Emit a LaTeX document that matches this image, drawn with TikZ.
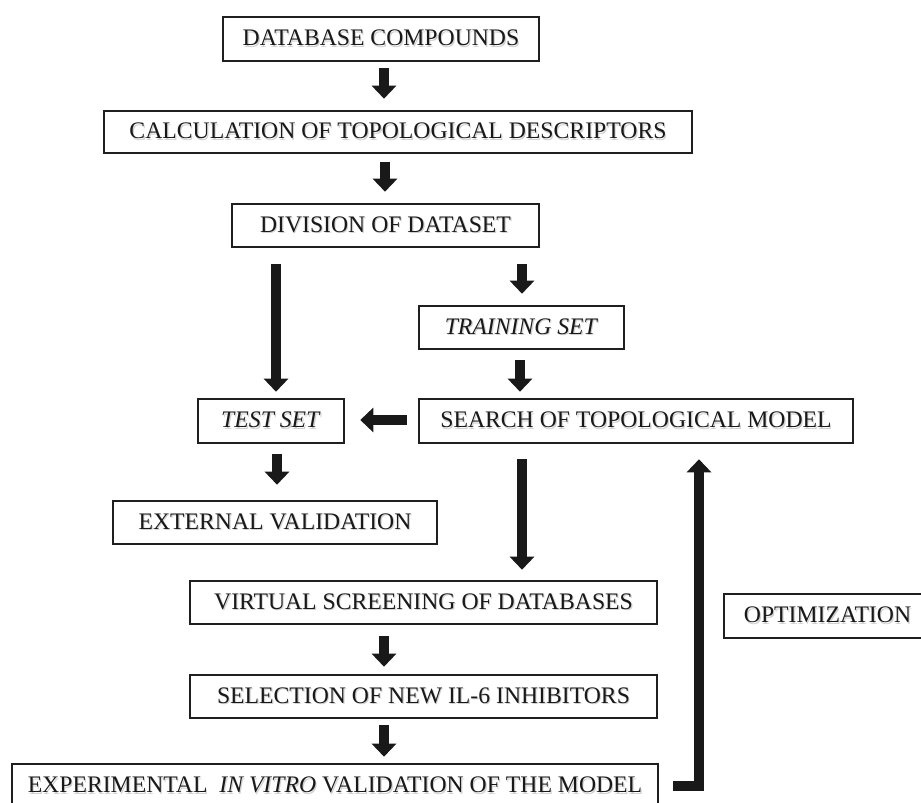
\documentclass[tikz,border=0pt]{standalone}
\usepackage{fontspec}
\setmainfont{Liberation Serif}
\usetikzlibrary{arrows.meta}
\newcommand\shd[1]{\leavevmode\rlap{\kern1.1pt\raisebox{-1.5pt}{\textcolor{black!18}{#1}}}#1}
\begin{document}
\begin{tikzpicture}[x=1pt,y=-1pt,
  box/.style={draw=black!88, line width=2.6pt, inner sep=0pt, minimum height=44pt,
    font=\fontsize{23.7}{26}\selectfont, text=black!90},
  bigarrow/.style={draw=black!90, line width=10pt, line join=miter,
    -{Triangle[width=24pt,length=13pt]}},
]
\path[use as bounding box, clip] (0,0) rectangle (921,803);
\fill[white] (0,0) rectangle (921,803);

\node[box, minimum width=316pt] (db) at (381,39) {\shd{DATABASE COMPOUNDS}};
\node[box, minimum width=588pt, minimum height=42pt] (calc) at (398,132) {\shd{CALCULATION OF TOPOLOGICAL DESCRIPTORS}};
\node[box, minimum width=307pt, minimum height=43pt] (div) at (385.5,225.5) {\shd{DIVISION OF DATASET}};
\node[box, minimum width=205pt, minimum height=43pt] (train) at (521.5,327.5) {\shd{\textit{TRAINING SET}}};
\node[box, minimum width=146pt] (test) at (271,421) {\shd{\textit{TEST SET}}};
\node[box, minimum width=434pt] (search) at (636,421) {\shd{SEARCH OF TOPOLOGICAL MODEL}};
\node[box, minimum width=324pt, minimum height=43pt] (ext) at (275,522.5) {\shd{EXTERNAL VALIDATION}};
\node[box, minimum width=467pt, minimum height=43pt] (virt) at (423.5,602.5) {\shd{VIRTUAL SCREENING OF DATABASES}};
\node[box, minimum width=467pt, minimum height=43pt] (sel) at (423.5,696.5) {\shd{SELECTION OF NEW IL-6 INHIBITORS}};
\node[box, minimum width=646pt] (exp) at (335,786) {\shd{EXPERIMENTAL\ \ \textit{IN VITRO} VALIDATION OF THE MODEL}};
\node[box, minimum width=207pt] (opt) at (827.5,616) {\shd{OPTIMIZATION}};

\draw[bigarrow] ([xshift=3pt,yshift=-6pt]db.south) -- ([xshift=-14pt,yshift=11pt]calc.north);
\draw[bigarrow] ([xshift=-13pt,yshift=-8pt]calc.south) -- ([xshift=-0.5pt,yshift=11pt]div.north);
\draw[bigarrow] ([xshift=-109.5pt,yshift=-16pt]div.south) -- ([xshift=5pt,yshift=6pt]test.north);
\draw[bigarrow] ([xshift=136.5pt,yshift=-16pt]div.south) -- ([xshift=0.5pt,yshift=11pt]train.north);
\draw[bigarrow] ([xshift=-1.5pt,yshift=-10pt]train.south) -- ([xshift=-116pt,yshift=6pt]search.north);
\draw[bigarrow] ([xshift=-11pt,yshift=1pt]search.west) -- ([xshift=15pt,yshift=1pt]test.east);
\draw[bigarrow] ([xshift=6pt,yshift=-10pt]test.south) -- ([xshift=2pt,yshift=15pt]ext.north);
\draw[bigarrow] ([xshift=-114pt,yshift=-15pt]search.south) -- ([xshift=98.5pt,yshift=10pt]virt.north);
\draw[bigarrow] ([xshift=-39.5pt,yshift=-11pt]virt.south) -- ([xshift=-39.5pt,yshift=7pt]sel.north);
\draw[bigarrow] ([xshift=-39.5pt,yshift=-6pt]sel.south) -- ([xshift=49pt,yshift=6pt]exp.north);
\draw[bigarrow] ([xshift=14pt]exp.east) -| ([xshift=63pt,yshift=-15pt]search.south);
\end{tikzpicture}
\end{document}
